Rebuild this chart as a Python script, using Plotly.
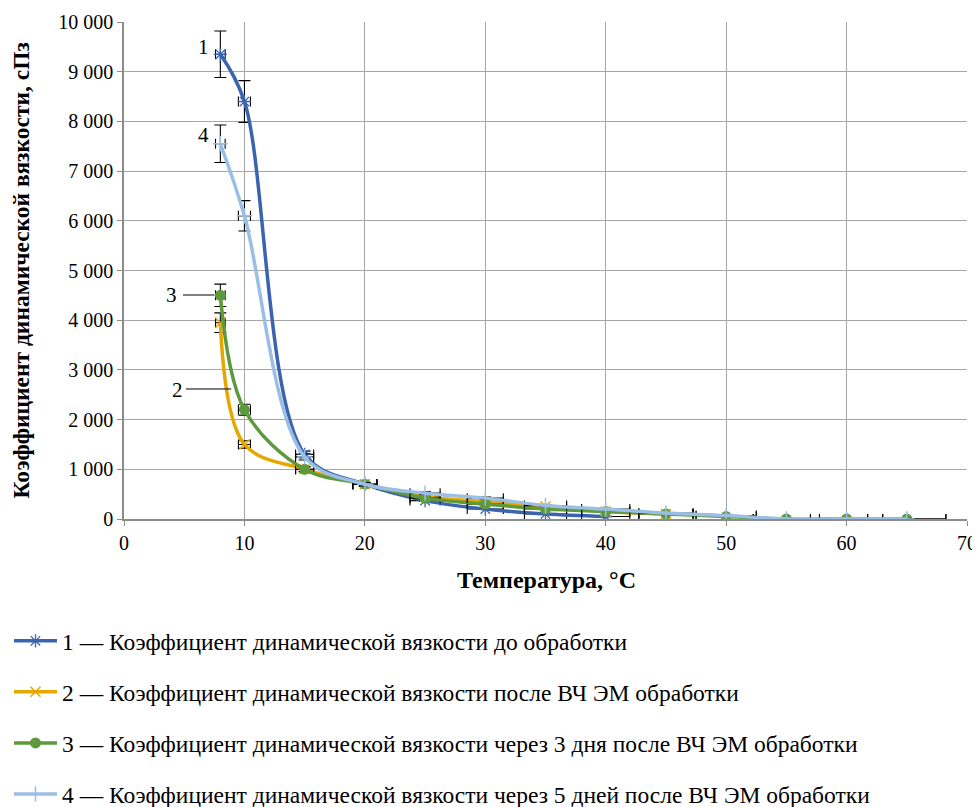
import plotly.graph_objects as go

# ---- data ----
x1 = [8, 10, 15, 20, 25, 30, 35, 40]
y1 = [9350, 8400, 1300, 700, 370, 200, 100, 50]

x2 = [8, 10, 15, 20, 25, 30, 35, 40, 45]
y2 = [3950, 1500, 1000, 700, 450, 350, 250, 150, 100]

x3 = [8, 10, 15, 20, 25, 30, 35, 40, 45, 50, 55, 60, 65]
y3 = [4500, 2200, 1000, 700, 420, 300, 200, 150, 100, 50, 0, 0, 0]

x4 = [8, 10, 15, 20, 25, 30, 35, 40, 45, 50, 55, 60, 65]
y4 = [7550, 6100, 1250, 700, 520, 420, 270, 200, 120, 70, 0, 0, 0]

names = [
    "1 — Коэффициент динамической вязкости до обработки",
    "2 — Коэффициент динамической вязкости после ВЧ ЭМ обработки",
    "3 — Коэффициент динамической вязкости через 3 дня после ВЧ ЭМ обработки",
    "4 — Коэффициент динамической вязкости через 5 дней после ВЧ ЭМ обработки",
]
err_pct = 5

FONT = "Times New Roman, Liberation Serif, DejaVu Serif, serif"
W, H = 972, 799
L, R, T, B = 116, 13, 14, 288
PW, PH = W - L - R, H - T - B

series = [
    (x1, y1, "#3B64AE", dict(symbol="asterisk-open", size=11, line=dict(width=1.3, color="#4F7BD0"))),
    (x2, y2, "#E6A700", dict(symbol="x-thin-open", size=10, line=dict(width=1.5, color="#E6A700"))),
    (x3, y3, "#5E9A3C", dict(symbol="circle", size=11, color="#5E9A3C")),
    (x4, y4, "#9BBEE4", dict(symbol="cross-thin-open", size=11, line=dict(width=1.5, color="#9BBEE4"))),
]

fig = go.Figure()
for i, (xs, ys, col, mk) in enumerate(series):
    fig.add_trace(go.Scatter(
        x=xs, y=ys, name=names[i], mode="lines+markers",
        line=dict(color=col, width=3.5, shape="spline", smoothing=1.0),
        marker=mk,
        legendgroup=str(i),
        error_y=dict(type="percent", value=err_pct, color="black", thickness=1.1, width=6),
        error_x=dict(type="percent", value=err_pct, color="black", thickness=1.1, width=5),
    ))

# curve labels
labels = [("1", 6.56, 9497), ("4", 6.56, 7726), ("3", 3.95, 4507), ("2", 4.45, 2596)]
for t, xx, yy in labels:
    fig.add_annotation(x=xx, y=yy, text=t, showarrow=False, xref="x", yref="y",
                       font=dict(family=FONT, size=21, color="black"))
fig.add_shape(type="line", x0=4.9, x1=7.5, y0=4507, y1=4507, xref="x", yref="y",
              line=dict(color="black", width=1))
fig.add_shape(type="line", x0=5.15, x1=8.9, y0=2616, y1=2616, xref="x", yref="y",
              line=dict(color="black", width=1))

# axis titles
fig.add_annotation(text="<b>Температура, °C</b>", xref="paper", yref="paper",
                   x=(538 - L) / PW, y=(H - B - 572) / PH, showarrow=False,
                   xanchor="center", yanchor="middle",
                   font=dict(family=FONT, size=24, color="black"))
fig.add_annotation(text="<b>Коэффициент динамической вязкости, сПз</b>", xref="paper", yref="paper",
                   x=(12 - L) / PW, y=0.5, showarrow=False, textangle=-90,
                   xanchor="center", yanchor="middle",
                   font=dict(family=FONT, size=23.5, color="black"))

fig.update_layout(
    width=W, height=H,
    margin=dict(l=L, r=R, t=T, b=B, autoexpand=False),
    plot_bgcolor="white", paper_bgcolor="white",
    separators=", ",
    font=dict(family=FONT, size=19, color="black"),
    showlegend=True,
    legend=dict(xref="container", yref="container", x=1 / W, y=1 - 611 / H,
                xanchor="left", yanchor="top", itemwidth=43,
                traceorder="grouped", tracegroupgap=17.5,
                font=dict(family=FONT, size=23.5, color="black"),
                bgcolor="rgba(0,0,0,0)"),
)
fig.update_xaxes(
    range=[0, 70], dtick=10, showgrid=True, gridcolor="#A6A6A6", gridwidth=1,
    showline=True, linecolor="#8C8C8C", linewidth=1.5, ticks="outside", ticklen=5,
    tickcolor="#8C8C8C", zeroline=False, mirror=False,
    tickfont=dict(family=FONT, size=20),
)
fig.update_yaxes(
    range=[0, 10000], dtick=1000, tickformat=",d", showgrid=True, gridcolor="#A6A6A6", gridwidth=1,
    showline=True, linecolor="#8C8C8C", linewidth=1.5, ticks="outside", ticklen=5,
    tickcolor="#8C8C8C", zeroline=False,
    tickfont=dict(family=FONT, size=20),
)

fig.write_html("out.html")
